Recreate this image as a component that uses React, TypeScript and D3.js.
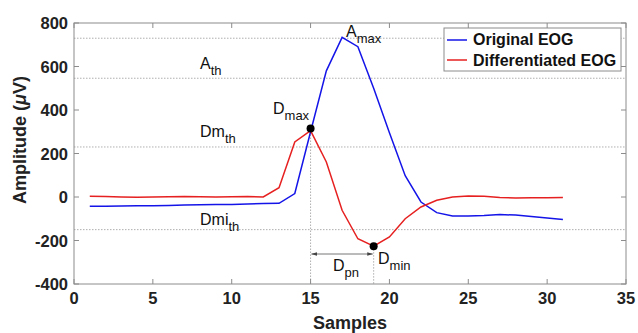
import React from 'react';
import * as d3 from 'd3';

const samples = [1, 2, 3, 4, 5, 6, 7, 8, 9, 10, 11, 12, 13, 14, 15, 16, 17, 18, 19, 20, 21, 22, 23, 24, 25, 26, 27, 28, 29, 30, 31];
const originalEOG = [-43, -42, -41, -40, -40, -39, -37, -36, -35, -34, -32, -30, -29, 16, 300, 580, 734, 691, 500, 295, 98, -23, -72, -87, -87, -85, -81, -83, -90, -97, -104];
const diffEOG = [3, 2, 0, -1, 0, 1, 2, 1, 0, 1, 2, 0, 43, 253, 305, 161, -61, -192, -226, -184, -100, -46, -15, 0, 5, 3, -2, -5, -3, -3, -2];
const thresholds = [730, 546, 230, -150];
const xTicks = [0, 5, 10, 15, 20, 25, 30, 35];
const yTicks = [-400, -200, 0, 200, 400, 600, 800];
const dMax = { sample: 15, value: 315 };
const dMin = { sample: 19, value: -226 };

const width = 638;
const height = 333;
const margin = { top: 23, right: 12, bottom: 49, left: 74 };
const font = '"Liberation Sans", Arial, Helvetica, sans-serif';
const blue = '#1414e8';
const red = '#e62020';
const axisGray = '#8c8c8c';

const Sub = ({ x, y, main, sub, anchor = 'start' }: { x: number; y: number; main: string; sub: string; anchor?: string }) => (
  <text x={x} y={y} fontFamily={font} fontSize={16} fill="#111" textAnchor={anchor}>
    {main}
    <tspan fontSize={13} dy={6}>{sub}</tspan>
  </text>
);

export default function App() {
  const innerW = width - margin.left - margin.right;
  const innerH = height - margin.top - margin.bottom;
  const x = d3.scaleLinear().domain([0, 35]).range([margin.left, margin.left + innerW]);
  const y = d3.scaleLinear().domain([-400, 800]).range([margin.top + innerH, margin.top]);

  const line = d3.line<number>()
    .x((_, i) => x(samples[i]))
    .y(d => y(d));

  const left = x(0);
  const right = x(35);
  const top = y(800);
  const bottom = y(-400);

  return (
    <svg width={width} height={height} style={{ position: 'absolute', left: 0, top: 0, background: '#fff' }}>
      {/* threshold lines */}
      {thresholds.map(t => (
        <line key={t} x1={left} x2={right} y1={y(t)} y2={y(t)} stroke="#9a9a9a" strokeWidth={0.8} strokeDasharray="1.5,1.5" />
      ))}
      {/* vertical markers */}
      {[dMax, dMin].map(p => (
        <line key={p.sample} x1={x(p.sample)} x2={x(p.sample)} y1={y(p.value)} y2={bottom} stroke="#9a9a9a" strokeWidth={0.8} strokeDasharray="1.5,1.5" />
      ))}

      {/* frame */}
      <rect x={left} y={top} width={right - left} height={bottom - top} fill="none" stroke={axisGray} strokeWidth={1} />
      {xTicks.map(t => (
        <g key={t}>
          <line x1={x(t)} x2={x(t)} y1={bottom} y2={bottom - 5} stroke={axisGray} />
          <line x1={x(t)} x2={x(t)} y1={top} y2={top + 5} stroke={axisGray} />
          <text x={x(t)} y={bottom + 20} textAnchor="middle" fontFamily={font} fontWeight="bold" fontSize={16.5} fill="#222">{t}</text>
        </g>
      ))}
      {yTicks.map(t => (
        <g key={t}>
          <line x1={left} x2={left + 5} y1={y(t)} y2={y(t)} stroke={axisGray} />
          <line x1={right} x2={right - 5} y1={y(t)} y2={y(t)} stroke={axisGray} />
          <text x={left - 6} y={y(t) + 6} textAnchor="end" fontFamily={font} fontWeight="bold" fontSize={16.5} fill="#222">{t}</text>
        </g>
      ))}

      {/* series */}
      <path d={line(originalEOG) || ''} fill="none" stroke={blue} strokeWidth={1.5} />
      <path d={line(diffEOG) || ''} fill="none" stroke={red} strokeWidth={1.5} />

      {/* points */}
      <circle cx={x(dMax.sample)} cy={y(dMax.value)} r={4} fill="#000" />
      <circle cx={x(dMin.sample)} cy={y(dMin.value)} r={4} fill="#000" />

      {/* D_pn arrow */}
      <defs>
        <marker id="ah" viewBox="0 0 10 10" refX="9" refY="5" markerWidth="6" markerHeight="6" orient="auto-start-reverse">
          <path d="M0,2 L10,5 L0,8 z" fill="#444" />
        </marker>
      </defs>
      <line x1={x(dMax.sample) + 1} x2={x(dMin.sample) - 1} y1={254} y2={254} stroke="#777" strokeWidth={1} markerStart="url(#ah)" markerEnd="url(#ah)" />

      {/* annotations */}
      <Sub x={346} y={37} main="A" sub="max" />
      <Sub x={200} y={69} main="A" sub="th" />
      <Sub x={200} y={137} main="Dm" sub="th" />
      <Sub x={273} y={114} main="D" sub="max" />
      <Sub x={200} y={225} main="Dmi" sub="th" />
      <Sub x={333} y={271} main="D" sub="pn" />
      <Sub x={378} y={264} main="D" sub="min" />

      {/* legend */}
      <rect x={444} y={28} width={177} height={43} fill="#fff" stroke={axisGray} strokeWidth={1} />
      <line x1={447} x2={467} y1={40} y2={40} stroke={blue} strokeWidth={1.5} />
      <line x1={447} x2={467} y1={60} y2={60} stroke={red} strokeWidth={1.5} />
      <text x={473} y={45} fontFamily={font} fontWeight="bold" fontSize={16} fill="#111">Original EOG</text>
      <text x={473} y={66} fontFamily={font} fontWeight="bold" fontSize={16} fill="#111">Differentiated EOG</text>

      {/* axis titles */}
      <text x={(left + right) / 2} y={329} textAnchor="middle" fontFamily={font} fontWeight="bold" fontSize={18} fill="#222">Samples</text>
      <text transform={`translate(26,${140}) rotate(-90)`} textAnchor="middle" fontFamily={font} fontWeight="bold" fontSize={18} fill="#222">
        Amplitude (<tspan fontStyle="italic">μ</tspan>V)
      </text>
    </svg>
  );
}
